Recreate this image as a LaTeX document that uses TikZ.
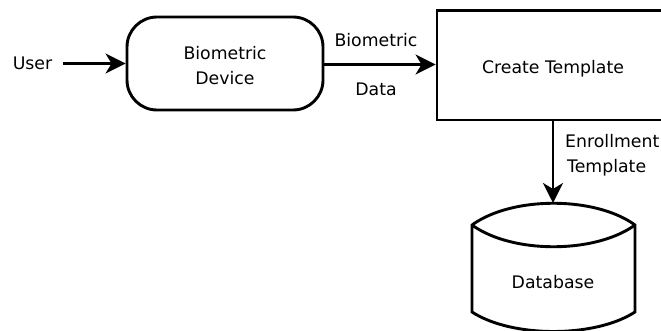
\documentclass[tikz,border=0pt]{standalone}
\usepackage{fontspec}
\setmainfont{DejaVu Sans}
\usetikzlibrary{arrows.meta}
\begin{document}
\begin{tikzpicture}[x=1pt,y=-1pt,
  lw/.style={line width=2.9pt},
  txt/.style={font=\fontsize{17.3}{26}\selectfont, inner sep=0pt, anchor=base},
  flow/.style={lw, -{Stealth[length=20pt,width=20pt,inset=6pt]}}]
\useasboundingbox (0,0) rectangle (661,331);
\fill[white] (0,0) rectangle (661,331);
% shapes
\node[draw, lw, rounded corners=30pt, minimum width=196pt, minimum height=93pt, inner sep=0pt] (dev) at (225,63.5) {};
\node[draw, lw, minimum width=232pt, minimum height=109.5pt, inner sep=0pt] (tmpl) at (553,65.25) {};
\coordinate (user) at (63,63.5);
\coordinate (dbtop) at (553,203);
% database cylinder
\draw[lw, fill=white] (472,225) -- (472,312)
  .. controls (512,338) and (595,338) .. (635,312)
  -- (635,225)
  .. controls (595,196) and (512,196) .. (472,225) -- cycle;
\draw[lw] (472,225) .. controls (512,254) and (595,254) .. (635,225);
% texts
\node[txt] (tuser) at (32.5,70) {User};
\node[txt] (tdev1) at (225,59.3) {Biometric};
\node[txt] (tdev2) at (225,85) {Device};
\node[txt] (tbd1) at (376,46.7) {Biometric};
\node[txt] (tbd2) at (376,96) {Data};
\node[txt] (ttmpl) at (553,74) {Create Template};
\node[txt, anchor=base west] (tenr1) at (565,147.7) {Enrollment};
\node[txt, anchor=base west] (tenr2) at (567,173) {Template};
\node[txt] (tdb) at (553,288.3) {Database};
% connectors
\draw[flow] (user) -- (dev.west |- user);
\draw[flow] (dev.east |- 0,64.5) -- (tmpl.west |- 0,64.5);
\draw[flow] (tmpl.south) -- (dbtop);
\end{tikzpicture}
\end{document}
